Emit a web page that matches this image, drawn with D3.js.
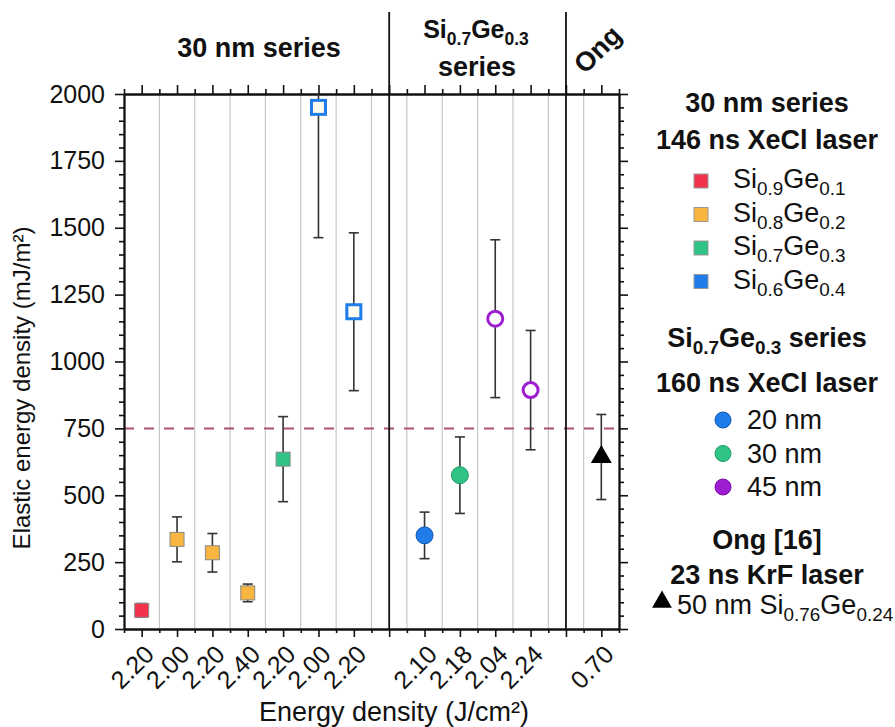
<!DOCTYPE html>
<html>
<head>
<meta charset="utf-8">
<script src="https://cdn.jsdelivr.net/npm/d3@7"></script>
<style>
  body { margin: 0; background: #fff; }
  svg { display: block; font-family: "Liberation Sans", Arial, sans-serif; }
</style>
</head>
<body>
<svg id="chart" width="895" height="727"></svg>
<script>
// ---------------- data ----------------
const tickPositions = [1, 2, 3, 4, 5, 6, 7, 9, 10, 11, 12, 14];
const tickLabels = ["2.20", "2.00", "2.20", "2.40", "2.20", "2.00", "2.20", "2.10", "2.18", "2.04", "2.24", "0.70"];
const yTicks = [0, 250, 500, 750, 1000, 1250, 1500, 1750, 2000];

// 30 nm series (squares), 146 ns XeCl laser
const sqX = [1, 2, 3, 4, 5, 6, 7];
const sqY = [70, 335, 285, 135, 635, 1950, 1186];
const sqErr = [25, 84, 72, 33, 159, 487, 295];
const sqComp = ["Si0.9Ge0.1", "Si0.8Ge0.2", "Si0.8Ge0.2", "Si0.8Ge0.2", "Si0.7Ge0.3", "Si0.6Ge0.4", "Si0.6Ge0.4"];
const sqHollow = [false, false, false, false, false, true, true];

// Si0.7Ge0.3 series (circles), 160 ns XeCl laser
const ciX = [9, 10, 11, 12];
const ciY = [350, 575, 1160, 893];
const ciErr = [87, 143, 295, 223];
const ciThick = ["20 nm", "30 nm", "45 nm", "45 nm"];
const ciHollow = [false, false, true, true];

// Ong [16] (triangle), 23 ns KrF laser
const trX = [14];
const trY = [643];
const trErr = [159];

const thresholdValue = 750;
const separators = [8, 13];

const compositions = [
  { key: "Si0.9Ge0.1", si: "0.9", ge: "0.1", color: "#f0324a" },
  { key: "Si0.8Ge0.2", si: "0.8", ge: "0.2", color: "#f8b640" },
  { key: "Si0.7Ge0.3", si: "0.7", ge: "0.3", color: "#2fc486" },
  { key: "Si0.6Ge0.4", si: "0.6", ge: "0.4", color: "#1f7ce8" }
];
const thicknesses = [
  { key: "20 nm", color: "#1f7ce8", stroke: "#1256b0" },
  { key: "30 nm", color: "#2fc486", stroke: "#1f9a66" },
  { key: "45 nm", color: "#9d1ed0", stroke: "#7a10a8" }
];

// ---------------- layout ----------------
const svg = d3.select("#chart");
const x = d3.scaleLinear().domain([0.5, 14.5]).range([124, 619]);
const y = d3.scaleLinear().domain([0, 2000]).range([629, 94]);
const compColor = d3.scaleOrdinal().domain(compositions.map(d => d.key)).range(compositions.map(d => d.color));
const thickColor = d3.scaleOrdinal().domain(thicknesses.map(d => d.key)).range(thicknesses.map(d => d.color));
const thickStroke = d3.scaleOrdinal().domain(thicknesses.map(d => d.key)).range(thicknesses.map(d => d.stroke));

const x0 = x.range()[0], x1 = x.range()[1], y0 = y.range()[0], y1 = y.range()[1];
const BIG = 27, TICK = 25;

svg.append("defs").append("clipPath").attr("id", "clip")
  .append("rect").attr("x", x0).attr("y", y1).attr("width", x1 - x0).attr("height", y0 - y1);

// grid lines at half positions
const gridPos = d3.range(1.5, 14, 1);
svg.append("g").selectAll("line").data(gridPos).join("line")
  .attr("x1", d => x(d)).attr("x2", d => x(d))
  .attr("y1", y1).attr("y2", y0)
  .attr("stroke", "#c8c8c8").attr("stroke-width", 1.2);

// threshold dashed line
svg.append("line")
  .attr("x1", x0).attr("x2", x1)
  .attr("y1", y(thresholdValue)).attr("y2", y(thresholdValue))
  .attr("stroke", "#b0506c").attr("stroke-width", 2)
  .attr("stroke-dasharray", "10,10");

// separators
svg.append("g").selectAll("line").data(separators).join("line")
  .attr("x1", d => x(d)).attr("x2", d => x(d))
  .attr("y1", 12).attr("y2", y0)
  .attr("stroke", "#111").attr("stroke-width", 1.8);

// ---------------- axes ----------------
const majorX = d3.range(1, 15, 1);
const minorX = d3.range(0.5, 15, 1);
const majorY = yTicks;
const minorY = d3.range(0, 2001, 50).filter(v => v % 250 !== 0);

function styleAxis(g) {
  g.select(".domain").attr("stroke", "#111").attr("stroke-width", 1.8);
  g.selectAll(".tick line").attr("stroke", "#111").attr("stroke-width", 1.6);
}

// bottom
svg.append("g").attr("transform", `translate(0,${y0})`)
  .call(d3.axisBottom(x).tickValues(majorX).tickSize(8).tickSizeOuter(0).tickFormat(""))
  .call(styleAxis);
svg.append("g").attr("transform", `translate(0,${y0})`)
  .call(d3.axisBottom(x).tickValues(minorX).tickSize(4).tickSizeOuter(0).tickFormat(""))
  .call(styleAxis);
// top
svg.append("g").attr("transform", `translate(0,${y1})`)
  .call(d3.axisTop(x).tickValues(majorX).tickSize(9).tickSizeOuter(0).tickFormat(""))
  .call(styleAxis);
svg.append("g").attr("transform", `translate(0,${y1})`)
  .call(d3.axisTop(x).tickValues(minorX).tickSize(5).tickSizeOuter(0).tickFormat(""))
  .call(styleAxis);
// left
svg.append("g").attr("transform", `translate(${x0},0)`)
  .call(d3.axisLeft(y).tickValues(majorY).tickSize(9).tickSizeOuter(0).tickPadding(10)
    .tickFormat(d3.format("d")))
  .call(styleAxis)
  .call(g => g.selectAll("text").attr("font-size", TICK).attr("fill", "#111")
    .attr("font-family", "Liberation Sans, Arial, sans-serif"));
svg.append("g").attr("transform", `translate(${x0},0)`)
  .call(d3.axisLeft(y).tickValues(minorY).tickSize(5).tickSizeOuter(0).tickFormat(""))
  .call(styleAxis);
// right
svg.append("g").attr("transform", `translate(${x1},0)`)
  .call(d3.axisRight(y).tickValues(majorY).tickSize(9).tickSizeOuter(0).tickFormat(""))
  .call(styleAxis);
svg.append("g").attr("transform", `translate(${x1},0)`)
  .call(d3.axisRight(y).tickValues(minorY).tickSize(5).tickSizeOuter(0).tickFormat(""))
  .call(styleAxis);

// x tick labels (rotated)
svg.append("g").selectAll("text").data(tickPositions).join("text")
  .attr("transform", (d, i) => `translate(${x(d) + 14},656) rotate(-45)`)
  .attr("text-anchor", "end")
  .attr("font-size", TICK).attr("fill", "#111")
  .text((d, i) => tickLabels[i]);

// axis titles
svg.append("text")
  .attr("x", 394).attr("y", 721)
  .attr("text-anchor", "middle").attr("font-size", BIG).attr("fill", "#111")
  .text("Energy density (J/cm²)");
svg.append("text")
  .attr("transform", `translate(30,388) rotate(-90)`)
  .attr("text-anchor", "middle").attr("font-size", 24).attr("fill", "#111")
  .text("Elastic energy density (mJ/m²)");

// ---------------- data marks ----------------
const marks = svg.append("g").attr("clip-path", "url(#clip)");

function errorBars(xs, ys, es) {
  const g = marks.append("g");
  xs.forEach((xv, i) => {
    const cx = x(xv), top = y(ys[i] + es[i]), bot = y(ys[i] - es[i]);
    g.append("line").attr("x1", cx).attr("x2", cx).attr("y1", top).attr("y2", bot)
      .attr("stroke", "#333").attr("stroke-width", 1.6);
    [top, bot].forEach(yy => g.append("line")
      .attr("x1", cx - 5).attr("x2", cx + 5).attr("y1", yy).attr("y2", yy)
      .attr("stroke", "#333").attr("stroke-width", 1.6));
  });
}
errorBars(sqX, sqY, sqErr);
errorBars(ciX, ciY, ciErr);
errorBars(trX, trY, trErr);

// squares
const sqData = sqX.map((v, i) => ({ x: v, y: sqY[i], c: sqComp[i], h: sqHollow[i] }));
marks.append("g").selectAll("rect").data(sqData).join("rect")
  .attr("x", d => x(d.x) - 7).attr("y", d => y(d.y) - 7)
  .attr("width", 14).attr("height", 14)
  .attr("fill", d => d.h ? "#fffdf0" : compColor(d.c))
  .attr("stroke", d => d.h ? compColor(d.c) : "#8a8a8a")
  .attr("stroke-width", d => d.h ? 3 : 1);

// circles
const ciData = ciX.map((v, i) => ({ x: v, y: ciY[i], t: ciThick[i], h: ciHollow[i] }));
marks.append("g").selectAll("circle").data(ciData).join("circle")
  .attr("cx", d => x(d.x)).attr("cy", d => y(d.y))
  .attr("r", d => d.h ? 7.5 : 8.5)
  .attr("fill", d => d.h ? "#ffffff" : thickColor(d.t))
  .attr("stroke", d => d.h ? thickColor(d.t) : thickStroke(d.t))
  .attr("stroke-width", d => d.h ? 3 : 1);

// triangle
marks.append("g").selectAll("path").data(trX.map((v, i) => ({ x: v, y: trY[i] }))).join("path")
  .attr("transform", d => `translate(${x(d.x)},${y(d.y)})`)
  .attr("d", d3.symbol(d3.symbolTriangle, 190)())
  .attr("fill", "#000");

// ---------------- headers ----------------
function subText(sel, parts, baseSize) {
  const dy = Math.round(baseSize * 0.26);
  parts.forEach(p => {
    const t = sel.append("tspan").text(p.t);
    if (p.sub) t.attr("font-size", baseSize * 0.7).attr("dy", dy);
    else if (p.after) t.attr("dy", -dy);
  });
}

svg.append("text").attr("x", 259).attr("y", 57)
  .attr("text-anchor", "middle").attr("font-size", BIG).attr("font-weight", "bold").attr("fill", "#111")
  .text("30 nm series");
{
  const t = svg.append("text").attr("x", 476).attr("y", 38)
    .attr("text-anchor", "middle").attr("font-size", 25).attr("font-weight", "bold").attr("fill", "#111");
  subText(t, [{ t: "Si" }, { t: "0.7", sub: true }, { t: "Ge", after: true }, { t: "0.3", sub: true }], 25);
}
svg.append("text").attr("x", 477).attr("y", 76)
  .attr("text-anchor", "middle").attr("font-size", BIG).attr("font-weight", "bold").attr("fill", "#111")
  .text("series");
svg.append("text").attr("transform", "translate(604,56) rotate(-45)")
  .attr("text-anchor", "middle").attr("font-size", BIG).attr("font-weight", "bold").attr("fill", "#111")
  .text("Ong");

// ---------------- legend ----------------
const lg = svg.append("g");
const lcx = 767;
function boldLine(txt, yy) {
  return lg.append("text").attr("x", lcx).attr("y", yy).attr("text-anchor", "middle")
    .attr("font-size", BIG).attr("font-weight", "bold").attr("fill", "#111").text(txt);
}
boldLine("30 nm series", 112);
boldLine("146 ns XeCl laser", 149);

compositions.forEach((c, i) => {
  const yy = 181 + i * 33.5;
  lg.append("rect").attr("x", 694).attr("y", yy - 7).attr("width", 14).attr("height", 14)
    .attr("fill", c.color).attr("stroke", "#999").attr("stroke-width", 1);
  const t = lg.append("text").attr("x", 733).attr("y", yy + 7)
    .attr("font-size", BIG).attr("fill", "#111");
  subText(t, [{ t: "Si" }, { t: c.si, sub: true }, { t: "Ge", after: true }, { t: c.ge, sub: true }], BIG);
});

{
  const t = lg.append("text").attr("x", lcx).attr("y", 347).attr("text-anchor", "middle")
    .attr("font-size", BIG).attr("font-weight", "bold").attr("fill", "#111");
  subText(t, [{ t: "Si" }, { t: "0.7", sub: true }, { t: "Ge", after: true }, { t: "0.3", sub: true }, { t: " series", after: true }], BIG);
}
boldLine("160 ns XeCl laser", 392);

thicknesses.forEach((c, i) => {
  const yy = 420 + i * 33.5;
  lg.append("circle").attr("cx", 723).attr("cy", yy).attr("r", 8)
    .attr("fill", c.color).attr("stroke", c.stroke).attr("stroke-width", 1);
  lg.append("text").attr("x", 747).attr("y", yy + 9)
    .attr("font-size", BIG).attr("fill", "#111").text(c.key);
});

boldLine("Ong [16]", 549);
boldLine("23 ns KrF laser", 584);
lg.append("path").attr("transform", "translate(662,602)")
  .attr("d", d3.symbol(d3.symbolTriangle, 170)()).attr("fill", "#000");
{
  const t = lg.append("text").attr("x", 677).attr("y", 614)
    .attr("font-size", BIG).attr("fill", "#111");
  subText(t, [{ t: "50 nm Si" }, { t: "0.76", sub: true }, { t: "Ge", after: true }, { t: "0.24", sub: true }], BIG);
}
</script>
</body>
</html>
